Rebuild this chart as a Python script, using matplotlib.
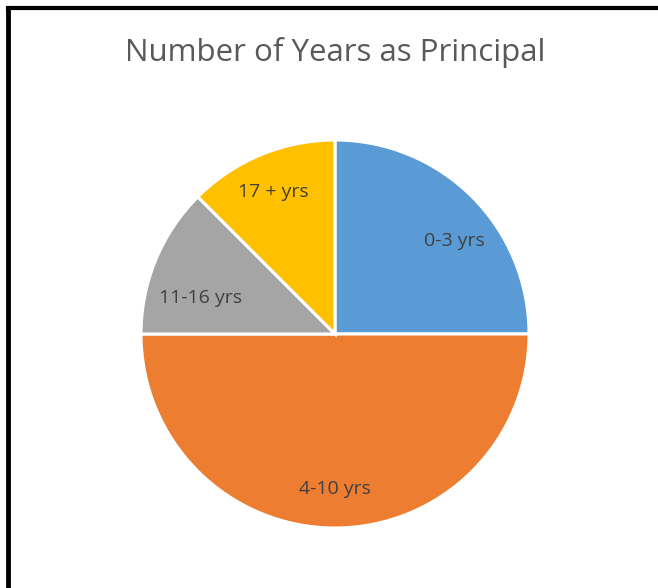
import matplotlib
matplotlib.use('Agg')
from matplotlib import pyplot as plt
from matplotlib.lines import Line2D
import numpy as np

labels = ['0-3 yrs', '4-10 yrs', '11-16 yrs', '17 + yrs']
values = [25, 50, 12.5, 12.5]
colors = ['#5b9bd5', '#ed7d31', '#a5a5a5', '#ffc000']

plt.rcParams['font.family'] = ['Open Sans', 'DejaVu Sans']

W, H = 658, 588
fig = plt.figure(figsize=(W / 100, H / 100), dpi=100)
fig.patch.set_facecolor('white')

# pie placement in pixels
cx, cy, r = 335, 334, 194
ax = fig.add_axes([(cx - r) / W, (H - cy - r) / H, 2 * r / W, 2 * r / H])
wedges, texts = ax.pie(values, labels=labels, colors=colors, startangle=90,
                       counterclock=False, labeldistance=0.78,
                       wedgeprops=dict(edgecolor='white', linewidth=2.2),
                       textprops=dict(color='#404040', fontsize=14))

# excel-ish label placement: (angle shift in deg, distance) per slice
shift = [-7, 0, 7.5, 1]
dist = [0.78, 0.80, 0.72, 0.80]
for w, t, s, d in zip(wedges, texts, shift, dist):
    a = np.deg2rad((w.theta1 + w.theta2) / 2 + s)
    t.set_position((d * np.cos(a), d * np.sin(a)))
    t.set_horizontalalignment('center')
    t.set_verticalalignment('center')
ax.set_xlim(-1, 1)
ax.set_ylim(-1, 1)
ax.set_aspect('equal')
ax.axis('off')

fig.text(cx / W, 1 - 53 / H, 'Number of Years as Principal', ha='center',
         va='center', fontsize=22.5, color='#595959')

# frame (left and top only visible)
fig.add_artist(Line2D([8 / W, 8 / W], [0, 1 - 7.5 / H], color='black', lw=3.5,
                      transform=fig.transFigure, solid_capstyle='projecting'))
fig.add_artist(Line2D([8 / W, 1], [1 - 7.5 / H, 1 - 7.5 / H], color='black', lw=3,
                      transform=fig.transFigure, solid_capstyle='projecting'))

fig.savefig('out.png', dpi=100)
